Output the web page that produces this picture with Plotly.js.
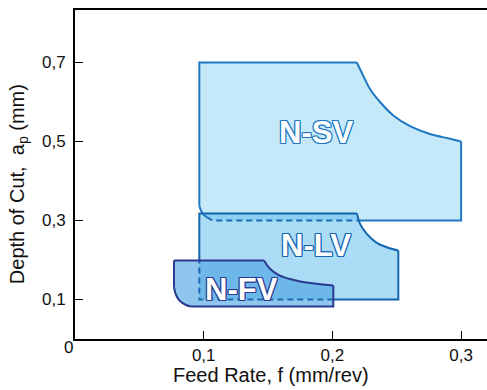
<!DOCTYPE html>
<html>
<head>
<meta charset="utf-8">
<script src="https://cdn.plot.ly/plotly-3.0.1.min.js"></script>
<style>html,body{margin:0;padding:0;background:#fff;}#chart{width:487px;height:390px;}</style>
</head>
<body>
<div id="chart"></div>
<script>
// N-SV region outline (feed rate f, depth of cut ap)
const svX = [0.219, 0.300, 0.300, 0.2914, 0.2758, 0.2603, 0.2473, 0.2370, 0.2292, 0.2240, 0.219, 0.0966, 0.0966, 0.0975, 0.0995, 0.1026, 0.1064, 0.111, 0.219];
const svY = [0.300, 0.300, 0.500, 0.507, 0.519, 0.539, 0.566, 0.600, 0.633, 0.666, 0.700, 0.700, 0.338, 0.328, 0.316, 0.308, 0.301, 0.300, 0.300];
// N-LV region outline
const lvX = [0.0966, 0.0966, 0.219, 0.2214, 0.2267, 0.2344, 0.2422, 0.2512, 0.2512, 0.2007, 0.0966, 0.0966];
const lvY = [0.199, 0.318, 0.318, 0.292, 0.266, 0.2435, 0.2324, 0.224, 0.100, 0.100, 0.100, 0.199];
// N-FV region outline
const fvX = [0.0769, 0.1469, 0.1515, 0.158, 0.1684, 0.1813, 0.2007, 0.2007, 0.0909, 0.0862, 0.0816, 0.0785, 0.0769, 0.0769];
const fvY = [0.199, 0.199, 0.178, 0.1625, 0.1506, 0.1423, 0.1354, 0.082, 0.082, 0.0861, 0.0962, 0.1114, 0.131, 0.199];
// Region labels
const labelText = ["N-SV", "N-LV", "N-FV"];
const labelX = [0.187, 0.1872, 0.1294];
const labelY = [0.523, 0.237, 0.1266];
// Axis ticks
const xTickVals = [0.1, 0.2, 0.3];
const xTickText = ["0,1", "0,2", "0,3"];
const yTickVals = [0.1, 0.3, 0.5, 0.7];
const yTickText = ["0,1", "0,3", "0,5", "0,7"];
const xTitle = 'Feed Rate, f (mm/rev)';
const yTitle = 'Depth of Cut,  a<sub>p</sub> (mm)';

const svLine = '#1f78c1', lvLine = '#1565b0', fvLine = '#2b3990', dashCol = '#1d6ab4';
const traces = [];
function fillTrace(x, y, color) {
  traces.push({x: x, y: y, mode: 'lines', fill: 'toself', fillcolor: color,
    line: {width: 0, color: 'rgba(0,0,0,0)'}, hoverinfo: 'skip', showlegend: false});
}
function seg(x, y, a, b, color, shape, dash) {
  traces.push({x: x.slice(a, b + 1), y: y.slice(a, b + 1), mode: 'lines',
    line: {width: 2, color: color, shape: shape || 'linear', smoothing: 1, dash: dash || 'solid'},
    hoverinfo: 'skip', showlegend: false});
}
// fills
fillTrace(svX, svY, 'rgb(197,233,249)');
fillTrace(lvX, lvY, 'rgba(85,185,235,0.5)');
fillTrace(fvX, fvY, 'rgba(68,160,225,0.6)');
// N-SV outline
seg(svX, svY, 0, 2, svLine);
seg(svX, svY, 2, 10, svLine, 'spline');
seg(svX, svY, 10, 12, svLine);
seg(svX, svY, 12, 15, svLine, 'spline');
seg(svX, svY, 15, 18, dashCol, 'linear', '6px,4px');
// N-LV outline
seg(lvX, lvY, 0, 2, lvLine);
seg(lvX, lvY, 2, 7, lvLine, 'spline');
seg(lvX, lvY, 7, 9, lvLine);
seg(lvX, lvY, 9, 11, dashCol, 'linear', '6px,4px');
// N-FV outline
seg(fvX, fvY, 0, 1, fvLine);
seg(fvX, fvY, 1, 6, fvLine, 'spline');
seg(fvX, fvY, 6, 8, fvLine);
seg(fvX, fvY, 8, 12, fvLine, 'spline');
seg(fvX, fvY, 12, 13, fvLine);

const fam = 'Arial, "Liberation Sans", sans-serif';
const labelOutline = ['#1f78c1', '#1565b0', '#2b3990'];
const annotations = labelText.map((t, i) => {
  const c = labelOutline[i];
  return {x: labelX[i], y: labelY[i], xref: 'x', yref: 'y', text: t, showarrow: false,
    font: {family: fam, size: 31, color: '#ffffff', weight: 'bold',
      shadow: `-1px -1px 0 ${c}, 1px -1px 0 ${c}, -1px 1px 0 ${c}, 1px 1px 0 ${c}, 0 -1px 0 ${c}, 0 1px 0 ${c}, -1px 0 0 ${c}, 1px 0 0 ${c}`},
    xanchor: 'center', yanchor: 'middle'};
});
annotations.push({x: 0, y: 0, xref: 'x', yref: 'y', text: '0', showarrow: false,
  xanchor: 'right', yanchor: 'middle', xshift: 0, yshift: -8,
  font: {family: fam, size: 17, color: '#111'}});
annotations.push({x: 0.476, y: -0.109, xref: 'paper', yref: 'paper', text: xTitle, showarrow: false,
  xanchor: 'center', yanchor: 'middle', font: {family: fam, size: 20, color: '#111'}});
annotations.push({x: -0.138, y: 0.471, xref: 'paper', yref: 'paper', text: yTitle, showarrow: false,
  textangle: -90, xanchor: 'center', yanchor: 'middle', font: {family: fam, size: 20, color: '#111'}});

const font = {family: fam, size: 17, color: '#111'};
const layout = {
  width: 487, height: 390,
  margin: {l: 75, r: 0, t: 10, b: 51},
  paper_bgcolor: '#fff', plot_bgcolor: '#fff',
  font: font,
  showlegend: false,
  xaxis: {range: [0, 0.3201], tickvals: xTickVals, ticktext: xTickText, ticks: 'inside', ticklen: 8,
    tickwidth: 1, tickcolor: '#000', showline: true, linecolor: '#000', linewidth: 2, mirror: true,
    showgrid: false, zeroline: false, tickfont: font, fixedrange: true},
  yaxis: {range: [0, 0.833], tickvals: yTickVals, ticktext: yTickText, ticks: 'inside', ticklen: 8,
    tickwidth: 1, tickcolor: '#000', showline: true, linecolor: '#000', linewidth: 2,
    showgrid: false, zeroline: false, tickfont: font, fixedrange: true, ticklabelstandoff: 4},
  annotations: annotations
};
Plotly.newPlot('chart', traces, layout, {staticPlot: true, displayModeBar: false});
</script>
</body>
</html>
